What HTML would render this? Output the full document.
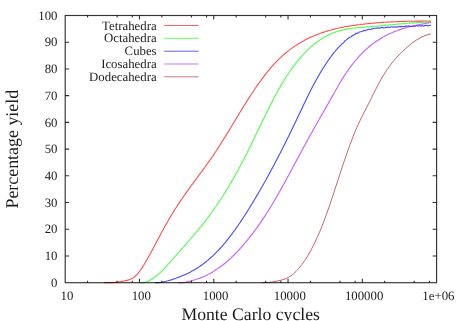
<!DOCTYPE html>
<html><head><meta charset="utf-8"><title>Percentage yield vs Monte Carlo cycles</title>
<style>
html,body{margin:0;padding:0;background:#fff;}
body{width:458px;height:321px;overflow:hidden;position:relative;}
svg{will-change:transform;}
svg text{font-family:"Liberation Serif",serif;fill:#1c1c1c;text-rendering:geometricPrecision;}
</style></head><body>
<svg width="458" height="321" viewBox="0 0 458 321" style="position:absolute;left:0;top:0">
<path d="M104.0 282.6 L105.0 282.6 L106.0 282.6 L107.0 282.6 L108.0 282.6 L109.0 282.6 L110.0 282.6 L111.0 282.6 L112.0 282.6 L113.0 282.6 L114.0 282.5 L115.0 282.4 L116.0 282.3 L117.0 282.2 L118.0 282.0 L119.0 281.9 L120.0 281.7 L121.0 281.6 L122.0 281.4 L123.0 281.2 L124.0 281.0 L125.0 280.8 L126.0 280.6 L127.0 280.4 L128.0 280.1 L129.0 279.8 L130.0 279.5 L131.0 279.1 L132.0 278.6 L133.0 278.0 L134.0 277.3 L135.0 276.4 L136.0 275.5 L137.0 274.4 L138.0 273.3 L139.0 272.1 L140.0 270.7 L141.0 269.3 L142.0 267.9 L143.0 266.3 L144.0 264.7 L145.0 263.0 L146.0 261.3 L147.0 259.6 L148.0 257.8 L149.0 256.0 L150.0 254.2 L151.0 252.3 L152.0 250.5 L153.0 248.6 L154.0 246.7 L155.0 244.9 L156.0 243.0 L157.0 241.1 L158.0 239.2 L159.0 237.4 L160.0 235.5 L161.0 233.6 L162.0 231.8 L163.0 229.9 L164.0 228.1 L165.0 226.3 L166.0 224.5 L167.0 222.7 L168.0 221.0 L169.0 219.2 L170.0 217.5 L171.0 215.8 L172.0 214.2 L173.0 212.5 L174.0 210.9 L175.0 209.3 L176.0 207.7 L177.0 206.2 L178.0 204.6 L179.0 203.1 L180.0 201.6 L181.0 200.1 L182.0 198.7 L183.0 197.2 L184.0 195.8 L185.0 194.4 L186.0 192.9 L187.0 191.5 L188.0 190.1 L189.0 188.8 L190.0 187.4 L191.0 186.0 L192.0 184.6 L193.0 183.3 L194.0 181.9 L195.0 180.6 L196.0 179.2 L197.0 177.9 L198.0 176.5 L199.0 175.2 L200.0 173.8 L201.0 172.5 L202.0 171.1 L203.0 169.8 L204.0 168.4 L205.0 167.0 L206.0 165.6 L207.0 164.2 L208.0 162.8 L209.0 161.4 L210.0 160.0 L211.0 158.6 L212.0 157.1 L213.0 155.7 L214.0 154.2 L215.0 152.7 L216.0 151.2 L217.0 149.7 L218.0 148.1 L219.0 146.6 L220.0 145.0 L221.0 143.4 L222.0 141.8 L223.0 140.2 L224.0 138.6 L225.0 137.0 L226.0 135.4 L227.0 133.7 L228.0 132.1 L229.0 130.5 L230.0 128.8 L231.0 127.2 L232.0 125.5 L233.0 123.8 L234.0 122.2 L235.0 120.5 L236.0 118.9 L237.0 117.2 L238.0 115.6 L239.0 113.9 L240.0 112.3 L241.0 110.6 L242.0 109.0 L243.0 107.4 L244.0 105.8 L245.0 104.2 L246.0 102.6 L247.0 101.0 L248.0 99.4 L249.0 97.9 L250.0 96.3 L251.0 94.8 L252.0 93.3 L253.0 91.7 L254.0 90.3 L255.0 88.8 L256.0 87.3 L257.0 85.9 L258.0 84.4 L259.0 83.0 L260.0 81.6 L261.0 80.3 L262.0 78.9 L263.0 77.6 L264.0 76.2 L265.0 74.9 L266.0 73.7 L267.0 72.4 L268.0 71.2 L269.0 69.9 L270.0 68.8 L271.0 67.6 L272.0 66.4 L273.0 65.3 L274.0 64.2 L275.0 63.1 L276.0 62.1 L277.0 61.1 L278.0 60.1 L279.0 59.1 L280.0 58.1 L281.0 57.2 L282.0 56.2 L283.0 55.3 L284.0 54.5 L285.0 53.6 L286.0 52.8 L287.0 51.9 L288.0 51.1 L289.0 50.4 L290.0 49.6 L291.0 48.9 L292.0 48.1 L293.0 47.4 L294.0 46.7 L295.0 46.0 L296.0 45.4 L297.0 44.7 L298.0 44.1 L299.0 43.5 L300.0 42.9 L301.0 42.3 L302.0 41.7 L303.0 41.2 L304.0 40.6 L305.0 40.1 L306.0 39.6 L307.0 39.1 L308.0 38.6 L309.0 38.1 L310.0 37.6 L311.0 37.1 L312.0 36.7 L313.0 36.3 L314.0 35.8 L315.0 35.4 L316.0 35.0 L317.0 34.6 L318.0 34.2 L319.0 33.8 L320.0 33.5 L321.0 33.1 L322.0 32.7 L323.0 32.4 L324.0 32.1 L325.0 31.8 L326.0 31.4 L327.0 31.1 L328.0 30.8 L329.0 30.5 L330.0 30.3 L331.0 30.0 L332.0 29.7 L333.0 29.4 L334.0 29.2 L335.0 28.9 L336.0 28.7 L337.0 28.5 L338.0 28.2 L339.0 28.0 L340.0 27.8 L341.0 27.6 L342.0 27.4 L343.0 27.2 L344.0 27.0 L345.0 26.8 L346.0 26.6 L347.0 26.5 L348.0 26.3 L349.0 26.1 L350.0 26.0 L351.0 25.8 L352.0 25.7 L353.0 25.5 L354.0 25.4 L355.0 25.2 L356.0 25.1 L357.0 24.9 L358.0 24.8 L359.0 24.7 L360.0 24.6 L361.0 24.4 L362.0 24.3 L363.0 24.2 L364.0 24.1 L365.0 24.0 L366.0 23.8 L367.0 23.7 L368.0 23.6 L369.0 23.5 L370.0 23.4 L371.0 23.3 L372.0 23.2 L373.0 23.2 L374.0 23.1 L375.0 23.0 L376.0 22.9 L377.0 22.8 L378.0 22.7 L379.0 22.7 L380.0 22.6 L381.0 22.5 L382.0 22.4 L383.0 22.4 L384.0 22.3 L385.0 22.2 L386.0 22.2 L387.0 22.1 L388.0 22.1 L389.0 22.0 L390.0 22.0 L391.0 21.9 L392.0 21.9 L393.0 21.8 L394.0 21.8 L395.0 21.7 L396.0 21.7 L397.0 21.6 L398.0 21.6 L399.0 21.6 L400.0 21.5 L401.0 21.5 L402.0 21.5 L403.0 21.4 L404.0 21.4 L405.0 21.4 L406.0 21.3 L407.0 21.3 L408.0 21.3 L409.0 21.3 L410.0 21.2 L411.0 21.2 L412.0 21.2 L413.0 21.2 L414.0 21.2 L415.0 21.2 L416.0 21.1 L417.0 21.1 L418.0 21.1 L419.0 21.1 L420.0 21.1 L421.0 21.1 L422.0 21.1 L423.0 21.1 L424.0 21.0 L425.0 21.0 L426.0 21.0 L427.0 21.0 L428.0 21.0 L429.0 21.0 L430.0 21.0 L430.9 21.0" fill="none" stroke="#ff0000" stroke-width="1.10" stroke-opacity="0.7" stroke-linejoin="round"/>
<path d="M140.0 282.6 L141.0 282.6 L142.0 282.6 L143.0 282.6 L144.0 282.6 L145.0 282.3 L146.0 282.1 L147.0 281.7 L148.0 281.3 L149.0 280.8 L150.0 280.3 L151.0 279.8 L152.0 279.2 L153.0 278.5 L154.0 277.8 L155.0 277.1 L156.0 276.3 L157.0 275.5 L158.0 274.6 L159.0 273.7 L160.0 272.8 L161.0 271.9 L162.0 270.9 L163.0 269.9 L164.0 268.8 L165.0 267.8 L166.0 266.7 L167.0 265.6 L168.0 264.5 L169.0 263.4 L170.0 262.2 L171.0 261.1 L172.0 260.0 L173.0 258.8 L174.0 257.7 L175.0 256.5 L176.0 255.4 L177.0 254.2 L178.0 253.1 L179.0 252.0 L180.0 250.9 L181.0 249.7 L182.0 248.6 L183.0 247.5 L184.0 246.3 L185.0 245.2 L186.0 244.1 L187.0 242.9 L188.0 241.8 L189.0 240.7 L190.0 239.5 L191.0 238.4 L192.0 237.2 L193.0 236.1 L194.0 234.9 L195.0 233.7 L196.0 232.5 L197.0 231.3 L198.0 230.1 L199.0 228.9 L200.0 227.7 L201.0 226.5 L202.0 225.2 L203.0 223.9 L204.0 222.7 L205.0 221.4 L206.0 220.1 L207.0 218.8 L208.0 217.4 L209.0 216.1 L210.0 214.7 L211.0 213.4 L212.0 212.0 L213.0 210.6 L214.0 209.1 L215.0 207.7 L216.0 206.3 L217.0 204.8 L218.0 203.3 L219.0 201.8 L220.0 200.3 L221.0 198.8 L222.0 197.3 L223.0 195.7 L224.0 194.1 L225.0 192.5 L226.0 190.9 L227.0 189.3 L228.0 187.7 L229.0 186.0 L230.0 184.3 L231.0 182.6 L232.0 180.9 L233.0 179.2 L234.0 177.4 L235.0 175.7 L236.0 173.9 L237.0 172.1 L238.0 170.2 L239.0 168.4 L240.0 166.5 L241.0 164.6 L242.0 162.7 L243.0 160.8 L244.0 158.9 L245.0 156.9 L246.0 154.9 L247.0 153.0 L248.0 151.0 L249.0 149.0 L250.0 146.9 L251.0 144.9 L252.0 142.9 L253.0 140.8 L254.0 138.8 L255.0 136.7 L256.0 134.6 L257.0 132.6 L258.0 130.5 L259.0 128.4 L260.0 126.3 L261.0 124.3 L262.0 122.2 L263.0 120.1 L264.0 118.1 L265.0 116.0 L266.0 113.9 L267.0 111.9 L268.0 109.9 L269.0 107.8 L270.0 105.8 L271.0 103.9 L272.0 101.9 L273.0 100.0 L274.0 98.0 L275.0 96.1 L276.0 94.3 L277.0 92.5 L278.0 90.6 L279.0 88.9 L280.0 87.1 L281.0 85.4 L282.0 83.7 L283.0 82.1 L284.0 80.5 L285.0 78.9 L286.0 77.3 L287.0 75.7 L288.0 74.2 L289.0 72.7 L290.0 71.3 L291.0 69.9 L292.0 68.5 L293.0 67.1 L294.0 65.7 L295.0 64.4 L296.0 63.1 L297.0 61.9 L298.0 60.6 L299.0 59.4 L300.0 58.2 L301.0 57.1 L302.0 55.9 L303.0 54.8 L304.0 53.8 L305.0 52.7 L306.0 51.7 L307.0 50.7 L308.0 49.7 L309.0 48.7 L310.0 47.8 L311.0 46.9 L312.0 46.0 L313.0 45.2 L314.0 44.3 L315.0 43.5 L316.0 42.7 L317.0 42.0 L318.0 41.3 L319.0 40.5 L320.0 39.9 L321.0 39.2 L322.0 38.5 L323.0 37.9 L324.0 37.3 L325.0 36.8 L326.0 36.2 L327.0 35.7 L328.0 35.2 L329.0 34.7 L330.0 34.2 L331.0 33.8 L332.0 33.4 L333.0 33.0 L334.0 32.6 L335.0 32.2 L336.0 31.9 L337.0 31.5 L338.0 31.2 L339.0 30.9 L340.0 30.7 L341.0 30.4 L342.0 30.1 L343.0 29.9 L344.0 29.7 L345.0 29.5 L346.0 29.3 L347.0 29.1 L348.0 28.9 L349.0 28.7 L350.0 28.6 L351.0 28.4 L352.0 28.3 L353.0 28.2 L354.0 28.0 L355.0 27.9 L356.0 27.8 L357.0 27.7 L358.0 27.6 L359.0 27.5 L360.0 27.4 L361.0 27.4 L362.0 27.3 L363.0 27.2 L364.0 27.1 L365.0 27.0 L366.0 27.0 L367.0 26.9 L368.0 26.8 L369.0 26.7 L370.0 26.7 L371.0 26.6 L372.0 26.5 L373.0 26.4 L374.0 26.3 L375.0 26.3 L376.0 26.2 L377.0 26.1 L378.0 26.0 L379.0 25.9 L380.0 25.8 L381.0 25.7 L382.0 25.6 L383.0 25.5 L384.0 25.4 L385.0 25.4 L386.0 25.3 L387.0 25.2 L388.0 25.1 L389.0 25.0 L390.0 24.9 L391.0 24.8 L392.0 24.7 L393.0 24.6 L394.0 24.5 L395.0 24.4 L396.0 24.3 L397.0 24.2 L398.0 24.1 L399.0 24.0 L400.0 23.9 L401.0 23.9 L402.0 23.8 L403.0 23.7 L404.0 23.6 L405.0 23.5 L406.0 23.4 L407.0 23.3 L408.0 23.3 L409.0 23.2 L410.0 23.1 L411.0 23.0 L412.0 22.9 L413.0 22.9 L414.0 22.8 L415.0 22.7 L416.0 22.7 L417.0 22.6 L418.0 22.5 L419.0 22.5 L420.0 22.4 L421.0 22.4 L422.0 22.3 L423.0 22.2 L424.0 22.2 L425.0 22.2 L426.0 22.1 L427.0 22.1 L428.0 22.0 L429.0 22.0 L430.0 22.0 L430.9 21.9" fill="none" stroke="#00ff00" stroke-width="1.10" stroke-opacity="0.7" stroke-linejoin="round"/>
<path d="M155.0 282.6 L156.0 282.6 L157.0 282.6 L158.0 282.6 L159.0 282.6 L160.0 282.5 L161.0 282.3 L162.0 282.1 L163.0 282.0 L164.0 281.7 L165.0 281.5 L166.0 281.3 L167.0 281.0 L168.0 280.8 L169.0 280.5 L170.0 280.2 L171.0 279.9 L172.0 279.6 L173.0 279.2 L174.0 278.9 L175.0 278.5 L176.0 278.2 L177.0 277.8 L178.0 277.5 L179.0 277.1 L180.0 276.7 L181.0 276.3 L182.0 275.9 L183.0 275.5 L184.0 275.0 L185.0 274.6 L186.0 274.1 L187.0 273.7 L188.0 273.2 L189.0 272.7 L190.0 272.2 L191.0 271.7 L192.0 271.1 L193.0 270.6 L194.0 270.0 L195.0 269.4 L196.0 268.8 L197.0 268.2 L198.0 267.5 L199.0 266.9 L200.0 266.2 L201.0 265.5 L202.0 264.8 L203.0 264.1 L204.0 263.3 L205.0 262.5 L206.0 261.7 L207.0 260.9 L208.0 260.1 L209.0 259.3 L210.0 258.4 L211.0 257.5 L212.0 256.6 L213.0 255.7 L214.0 254.7 L215.0 253.7 L216.0 252.7 L217.0 251.7 L218.0 250.7 L219.0 249.6 L220.0 248.5 L221.0 247.4 L222.0 246.3 L223.0 245.1 L224.0 244.0 L225.0 242.8 L226.0 241.6 L227.0 240.3 L228.0 239.1 L229.0 237.8 L230.0 236.5 L231.0 235.2 L232.0 233.9 L233.0 232.5 L234.0 231.1 L235.0 229.8 L236.0 228.3 L237.0 226.9 L238.0 225.5 L239.0 224.0 L240.0 222.6 L241.0 221.1 L242.0 219.6 L243.0 218.1 L244.0 216.5 L245.0 215.0 L246.0 213.4 L247.0 211.9 L248.0 210.3 L249.0 208.7 L250.0 207.0 L251.0 205.4 L252.0 203.8 L253.0 202.1 L254.0 200.5 L255.0 198.8 L256.0 197.1 L257.0 195.4 L258.0 193.7 L259.0 192.0 L260.0 190.3 L261.0 188.5 L262.0 186.8 L263.0 185.0 L264.0 183.2 L265.0 181.5 L266.0 179.7 L267.0 177.8 L268.0 176.0 L269.0 174.2 L270.0 172.4 L271.0 170.5 L272.0 168.6 L273.0 166.8 L274.0 164.9 L275.0 163.0 L276.0 161.1 L277.0 159.2 L278.0 157.3 L279.0 155.3 L280.0 153.4 L281.0 151.4 L282.0 149.5 L283.0 147.5 L284.0 145.5 L285.0 143.5 L286.0 141.5 L287.0 139.5 L288.0 137.5 L289.0 135.4 L290.0 133.4 L291.0 131.3 L292.0 129.3 L293.0 127.2 L294.0 125.1 L295.0 123.0 L296.0 120.9 L297.0 118.8 L298.0 116.7 L299.0 114.6 L300.0 112.5 L301.0 110.4 L302.0 108.2 L303.0 106.1 L304.0 104.0 L305.0 101.9 L306.0 99.9 L307.0 97.8 L308.0 95.8 L309.0 93.7 L310.0 91.7 L311.0 89.8 L312.0 87.8 L313.0 85.9 L314.0 84.0 L315.0 82.1 L316.0 80.3 L317.0 78.5 L318.0 76.7 L319.0 75.0 L320.0 73.3 L321.0 71.6 L322.0 70.0 L323.0 68.3 L324.0 66.8 L325.0 65.2 L326.0 63.7 L327.0 62.2 L328.0 60.7 L329.0 59.4 L330.0 57.9 L331.0 56.5 L332.0 55.2 L333.0 53.9 L334.0 52.7 L335.0 51.5 L336.0 50.2 L337.0 49.2 L338.0 47.8 L339.0 46.8 L340.0 45.8 L341.0 44.8 L342.0 43.7 L343.0 43.2 L344.0 42.2 L345.0 40.8 L346.0 40.1 L347.0 39.2 L348.0 38.6 L349.0 37.7 L350.0 37.2 L351.0 36.9 L352.0 35.8 L353.0 35.4 L354.0 34.8 L355.0 34.4 L356.0 33.2 L357.0 33.4 L358.0 33.1 L359.0 32.4 L360.0 31.7 L361.0 31.7 L362.0 31.4 L363.0 31.0 L364.0 30.2 L365.0 30.7 L366.0 30.4 L367.0 29.7 L368.0 29.6 L369.0 28.9 L370.0 29.6 L371.0 29.3 L372.0 28.9 L373.0 28.9 L374.0 28.2 L375.0 28.2 L376.0 28.0 L377.0 28.3 L378.0 27.7 L379.0 28.3 L380.0 27.9 L381.0 27.8 L382.0 27.4 L383.0 27.8 L384.0 27.8 L385.0 27.6 L386.0 27.2 L387.0 27.6 L388.0 27.0 L389.0 27.5 L390.0 27.2 L391.0 26.9 L392.0 27.0 L393.0 27.1 L394.0 26.7 L395.0 27.2 L396.0 26.7 L397.0 27.1 L398.0 27.0 L399.0 26.3 L400.0 26.7 L401.0 26.4 L402.0 26.7 L403.0 26.5 L404.0 26.4 L405.0 26.7 L406.0 25.9 L407.0 26.3 L408.0 26.1 L409.0 25.8 L410.0 26.4 L411.0 26.2 L412.0 26.4 L413.0 26.1 L414.0 25.9 L415.0 26.4 L416.0 25.6 L417.0 25.5 L418.0 26.1 L419.0 25.8 L420.0 25.7 L421.0 26.2 L422.0 25.6 L423.0 26.1 L424.0 25.9 L425.0 25.6 L426.0 25.3 L427.0 25.4 L428.0 26.1 L429.0 25.5 L430.0 25.3 L430.9 25.4" fill="none" stroke="#0000ff" stroke-width="1.15" stroke-opacity="0.7" stroke-linejoin="round"/>
<path d="M178.0 282.6 L179.0 282.6 L180.0 282.6 L181.0 282.6 L182.0 282.6 L183.0 282.6 L184.0 282.5 L185.0 282.3 L186.0 282.1 L187.0 281.9 L188.0 281.7 L189.0 281.4 L190.0 281.2 L191.0 280.9 L192.0 280.6 L193.0 280.3 L194.0 280.0 L195.0 279.7 L196.0 279.3 L197.0 279.0 L198.0 278.7 L199.0 278.4 L200.0 278.0 L201.0 277.6 L202.0 277.3 L203.0 276.9 L204.0 276.5 L205.0 276.0 L206.0 275.6 L207.0 275.1 L208.0 274.6 L209.0 274.1 L210.0 273.6 L211.0 273.0 L212.0 272.4 L213.0 271.8 L214.0 271.1 L215.0 270.5 L216.0 269.8 L217.0 269.1 L218.0 268.4 L219.0 267.7 L220.0 267.0 L221.0 266.3 L222.0 265.5 L223.0 264.8 L224.0 264.0 L225.0 263.2 L226.0 262.3 L227.0 261.5 L228.0 260.6 L229.0 259.7 L230.0 258.8 L231.0 257.9 L232.0 256.9 L233.0 255.9 L234.0 255.0 L235.0 254.0 L236.0 252.9 L237.0 251.9 L238.0 250.9 L239.0 249.8 L240.0 248.7 L241.0 247.6 L242.0 246.5 L243.0 245.4 L244.0 244.2 L245.0 243.0 L246.0 241.8 L247.0 240.6 L248.0 239.4 L249.0 238.2 L250.0 236.9 L251.0 235.7 L252.0 234.4 L253.0 233.1 L254.0 231.7 L255.0 230.4 L256.0 229.0 L257.0 227.6 L258.0 226.2 L259.0 224.8 L260.0 223.4 L261.0 221.9 L262.0 220.4 L263.0 218.9 L264.0 217.4 L265.0 215.9 L266.0 214.3 L267.0 212.8 L268.0 211.2 L269.0 209.6 L270.0 208.0 L271.0 206.3 L272.0 204.7 L273.0 203.0 L274.0 201.3 L275.0 199.6 L276.0 197.9 L277.0 196.2 L278.0 194.4 L279.0 192.7 L280.0 190.9 L281.0 189.1 L282.0 187.3 L283.0 185.5 L284.0 183.7 L285.0 181.9 L286.0 180.1 L287.0 178.2 L288.0 176.4 L289.0 174.5 L290.0 172.7 L291.0 170.8 L292.0 169.0 L293.0 167.1 L294.0 165.2 L295.0 163.4 L296.0 161.5 L297.0 159.6 L298.0 157.8 L299.0 155.9 L300.0 154.0 L301.0 152.2 L302.0 150.3 L303.0 148.4 L304.0 146.6 L305.0 144.7 L306.0 142.9 L307.0 141.1 L308.0 139.3 L309.0 137.4 L310.0 135.6 L311.0 133.8 L312.0 132.1 L313.0 130.3 L314.0 128.5 L315.0 126.7 L316.0 125.0 L317.0 123.2 L318.0 121.4 L319.0 119.7 L320.0 117.9 L321.0 116.2 L322.0 114.4 L323.0 112.7 L324.0 110.9 L325.0 109.2 L326.0 107.4 L327.0 105.6 L328.0 103.9 L329.0 102.1 L330.0 100.3 L331.0 98.6 L332.0 96.8 L333.0 95.0 L334.0 93.2 L335.0 91.5 L336.0 89.7 L337.0 88.0 L338.0 86.2 L339.0 84.5 L340.0 82.8 L341.0 81.1 L342.0 79.5 L343.0 77.9 L344.0 76.3 L345.0 74.7 L346.0 73.2 L347.0 71.7 L348.0 70.3 L349.0 68.9 L350.0 67.5 L351.0 66.1 L352.0 64.8 L353.0 63.5 L354.0 62.3 L355.0 61.0 L356.0 59.8 L357.0 58.7 L358.0 57.5 L359.0 56.4 L360.0 55.3 L361.0 54.3 L362.0 53.3 L363.0 52.3 L364.0 51.3 L365.0 50.4 L366.0 49.4 L367.0 48.5 L368.0 47.7 L369.0 46.8 L370.0 46.0 L371.0 45.2 L372.0 44.4 L373.0 43.6 L374.0 42.9 L375.0 42.2 L376.0 41.5 L377.0 40.8 L378.0 40.2 L379.0 39.5 L380.0 38.9 L381.0 38.3 L382.0 37.7 L383.0 37.1 L384.0 36.6 L385.0 36.0 L386.0 35.5 L387.0 35.0 L388.0 34.5 L389.0 34.0 L390.0 33.6 L391.0 33.1 L392.0 32.7 L393.0 32.2 L394.0 31.8 L395.0 31.4 L396.0 31.0 L397.0 30.7 L398.0 30.3 L399.0 29.9 L400.0 29.6 L401.0 29.3 L402.0 28.9 L403.0 28.6 L404.0 28.3 L405.0 28.0 L406.0 27.7 L407.0 27.5 L408.0 27.2 L409.0 26.9 L410.0 26.7 L411.0 26.4 L412.0 26.2 L413.0 26.0 L414.0 25.7 L415.0 25.5 L416.0 25.3 L417.0 25.1 L418.0 24.9 L419.0 24.7 L420.0 24.5 L421.0 24.3 L422.0 24.1 L423.0 23.9 L424.0 23.7 L425.0 23.5 L426.0 23.3 L427.0 23.1 L428.0 23.0 L429.0 22.8 L430.0 22.6 L430.9 22.4" fill="none" stroke="#b020f8" stroke-width="1.15" stroke-opacity="0.7" stroke-linejoin="round"/>
<path d="M262.0 282.6 L263.0 282.6 L264.0 282.6 L265.0 282.6 L266.0 282.6 L267.0 282.6 L268.0 282.5 L269.0 282.4 L270.0 282.3 L271.0 282.2 L272.0 282.0 L273.0 281.9 L274.0 281.7 L275.0 281.5 L276.0 281.3 L277.0 281.1 L278.0 280.9 L279.0 280.7 L280.0 280.4 L281.0 280.2 L282.0 279.9 L283.0 279.6 L284.0 279.3 L285.0 278.9 L286.0 278.5 L287.0 278.1 L288.0 277.6 L289.0 277.0 L290.0 276.4 L291.0 275.7 L292.0 275.0 L293.0 274.2 L294.0 273.3 L295.0 272.4 L296.0 271.5 L297.0 270.4 L298.0 269.3 L299.0 268.2 L300.0 267.0 L301.0 265.7 L302.0 264.4 L303.0 263.1 L304.0 261.6 L305.0 260.1 L306.0 258.6 L307.0 257.0 L308.0 255.3 L309.0 253.6 L310.0 251.9 L311.0 250.0 L312.0 248.2 L313.0 246.2 L314.0 244.2 L315.0 242.2 L316.0 240.1 L317.0 237.9 L318.0 235.7 L319.0 233.4 L320.0 231.0 L321.0 228.6 L322.0 226.1 L323.0 223.6 L324.0 221.0 L325.0 218.3 L326.0 215.6 L327.0 212.8 L328.0 210.0 L329.0 207.1 L330.0 204.2 L331.0 201.2 L332.0 198.2 L333.0 195.2 L334.0 192.2 L335.0 189.1 L336.0 186.1 L337.0 183.0 L338.0 179.9 L339.0 176.9 L340.0 173.8 L341.0 170.8 L342.0 167.8 L343.0 164.7 L344.0 161.8 L345.0 158.8 L346.0 155.9 L347.0 153.0 L348.0 150.2 L349.0 147.4 L350.0 144.6 L351.0 142.0 L352.0 139.3 L353.0 136.8 L354.0 134.3 L355.0 131.8 L356.0 129.5 L357.0 127.2 L358.0 125.0 L359.0 122.8 L360.0 120.7 L361.0 118.6 L362.0 116.6 L363.0 114.6 L364.0 112.6 L365.0 110.7 L366.0 108.7 L367.0 106.8 L368.0 104.8 L369.0 102.9 L370.0 100.9 L371.0 98.9 L372.0 96.9 L373.0 94.8 L374.0 92.8 L375.0 90.8 L376.0 88.8 L377.0 86.8 L378.0 84.9 L379.0 83.0 L380.0 81.2 L381.0 79.4 L382.0 77.6 L383.0 76.0 L384.0 74.3 L385.0 72.8 L386.0 71.2 L387.0 69.7 L388.0 68.3 L389.0 66.9 L390.0 65.5 L391.0 64.2 L392.0 62.9 L393.0 61.7 L394.0 60.5 L395.0 59.3 L396.0 58.1 L397.0 57.0 L398.0 55.9 L399.0 54.9 L400.0 53.9 L401.0 52.9 L402.0 51.9 L403.0 50.9 L404.0 50.0 L405.0 49.0 L406.0 48.1 L407.0 47.3 L408.0 46.4 L409.0 45.6 L410.0 44.7 L411.0 43.9 L412.0 43.2 L413.0 42.4 L414.0 41.7 L415.0 41.0 L416.0 40.3 L417.0 39.7 L418.0 39.1 L419.0 38.5 L420.0 37.9 L421.0 37.4 L422.0 36.9 L423.0 36.4 L424.0 36.0 L425.0 35.6 L426.0 35.3 L427.0 34.9 L428.0 34.6 L429.0 34.4 L430.0 34.1 L430.9 34.0" fill="none" stroke="#ac2430" stroke-width="1.00" stroke-opacity="0.7" stroke-linejoin="round"/>
<rect x="65.2" y="15.5" width="371.4" height="267.2" fill="none" stroke="#000" stroke-opacity="0.8" stroke-width="1.15"/>
<path d="M65.2 42.22h4M436.6 42.22h-4M65.2 68.94h4M436.6 68.94h-4M65.2 95.66h4M436.6 95.66h-4M65.2 122.38h4M436.6 122.38h-4M65.2 149.10h4M436.6 149.10h-4M65.2 175.82h4M436.6 175.82h-4M65.2 202.54h4M436.6 202.54h-4M65.2 229.26h4M436.6 229.26h-4M65.2 255.98h4M436.6 255.98h-4M87.56 282.7v-2M87.56 15.5v2M117.12 282.7v-2M117.12 15.5v2M132.28 282.7v-2M132.28 15.5v2M139.48 282.7v-4M139.48 15.5v4M161.84 282.7v-2M161.84 15.5v2M191.40 282.7v-2M191.40 15.5v2M206.56 282.7v-2M206.56 15.5v2M213.76 282.7v-4M213.76 15.5v4M236.12 282.7v-2M236.12 15.5v2M265.68 282.7v-2M265.68 15.5v2M280.84 282.7v-2M280.84 15.5v2M288.04 282.7v-4M288.04 15.5v4M310.40 282.7v-2M310.40 15.5v2M339.96 282.7v-2M339.96 15.5v2M355.12 282.7v-2M355.12 15.5v2M362.32 282.7v-4M362.32 15.5v4M384.68 282.7v-2M384.68 15.5v2M414.24 282.7v-2M414.24 15.5v2M429.40 282.7v-2M429.40 15.5v2" fill="none" stroke="#000" stroke-opacity="0.8" stroke-width="1.1"/>
<path d="M164.1 25.5H198.6" fill="none" stroke="#ff0000" stroke-opacity="0.62" stroke-width="1.00"/>
<path d="M164.1 38.3H198.6" fill="none" stroke="#00ff00" stroke-opacity="0.62" stroke-width="1.00"/>
<path d="M164.1 51.2H198.6" fill="none" stroke="#0000ff" stroke-opacity="0.62" stroke-width="1.00"/>
<path d="M164.1 64.0H198.6" fill="none" stroke="#b020f8" stroke-opacity="0.62" stroke-width="1.15"/>
<path d="M164.1 76.8H198.6" fill="none" stroke="#ac2430" stroke-opacity="0.62" stroke-width="1.00"/>
<text x="57.5" y="19.6" text-anchor="end" font-size="12.80" >100</text>
<text x="57.5" y="46.3" text-anchor="end" font-size="12.80" >90</text>
<text x="57.5" y="73.0" text-anchor="end" font-size="12.80" >80</text>
<text x="57.5" y="99.8" text-anchor="end" font-size="12.80" >70</text>
<text x="57.5" y="126.5" text-anchor="end" font-size="12.80" >60</text>
<text x="57.5" y="153.2" text-anchor="end" font-size="12.80" >50</text>
<text x="57.5" y="179.9" text-anchor="end" font-size="12.80" >40</text>
<text x="57.5" y="206.6" text-anchor="end" font-size="12.80" >30</text>
<text x="57.5" y="233.4" text-anchor="end" font-size="12.80" >20</text>
<text x="57.5" y="260.1" text-anchor="end" font-size="12.80" >10</text>
<text x="57.5" y="286.8" text-anchor="end" font-size="12.80" >0</text>
<text x="67.0" y="300.4" text-anchor="middle" font-size="12.80" >10</text>
<text x="141.3" y="300.4" text-anchor="middle" font-size="12.80" >100</text>
<text x="215.6" y="300.4" text-anchor="middle" font-size="12.80" >1000</text>
<text x="289.8" y="300.4" text-anchor="middle" font-size="12.80" >10000</text>
<text x="364.1" y="300.4" text-anchor="middle" font-size="12.80" >100000</text>
<text x="438.4" y="300.4" text-anchor="middle" font-size="12.80" >1e+06</text>
<text x="156.6" y="29.6" text-anchor="end" font-size="12.80" >Tetrahedra</text>
<text x="156.6" y="42.4" text-anchor="end" font-size="12.80" >Octahedra</text>
<text x="156.6" y="55.3" text-anchor="end" font-size="12.80" >Cubes</text>
<text x="156.6" y="68.1" text-anchor="end" font-size="12.80" >Icosahedra</text>
<text x="156.6" y="80.9" text-anchor="end" font-size="12.80" >Dodecahedra</text>
<text x="250.7" y="320.1" text-anchor="middle" font-size="17.70" >Monte Carlo cycles</text>
<text transform="translate(18,149.2) rotate(-90)" text-anchor="middle" font-size="17.90">Percentage yield</text>
</svg>
</body></html>
